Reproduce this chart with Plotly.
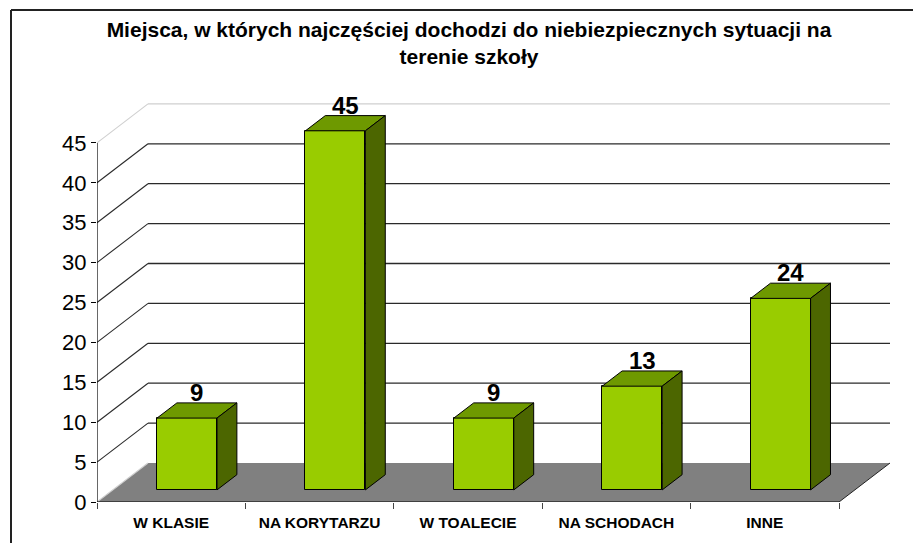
import plotly.graph_objects as go

# ---- data ----
categories = ["W KLASIE", "NA KORYTARZU", "W TOALECIE", "NA SCHODACH", "INNE"]
values = [9, 45, 9, 13, 24]
y_ticks = [0, 5, 10, 15, 20, 25, 30, 35, 40, 45]
title_lines = ["Miejsca, w których najczęściej dochodzi do niebiezpiecznych sytuacji na",
               "terenie szkoły"]

# ---- geometry / style ----
W, H = 913, 543
ML, MB, MR, MT = 97, 41, 15, 87
PXC = 148.4          # px per category (front plane)
PXU = 7.98           # px per value unit (front plane)
DX = 51 / PXC        # depth offset in x units
DY = 39 / PXU        # depth offset in y units
PLOT_W = W - ML - MR
PLOT_H = H - MB - MT
XMAX = PLOT_W / PXC
YMAX = PLOT_H / PXU
F_FRONT, F_BACK = 0.31, 0.70
BW = 0.404
N = len(categories)
YTOP = y_ticks[-1]
FONT = "Liberation Sans, Arial, sans-serif"

FRONT_C = "#99CC00"
TOP_C = "#6E9900"
SIDE_C = "#4C6600"
FLOOR_C = "#808080"
GRID_C = "#2a2a2a"
TOPGRID_C = "#cfcfcf"

def ppx(px):
    return (px - ML) / PLOT_W

def ppy(py):
    return (H - MB - py) / PLOT_H

shapes = []
# floor
shapes.append(dict(type="path", layer="below", xref="x", yref="y",
                   path=f"M 0,0 L {N},0 L {N+DX},{DY} L {DX},{DY} Z",
                   fillcolor=FLOOR_C, line=dict(width=0)))
# back wall gridlines and left wall diagonals
for v in y_ticks:
    col = TOPGRID_C if (v == YTOP or v == 0) else GRID_C
    if v > 0:
        shapes.append(dict(type="line", layer="below", xref="x", yref="y",
                           x0=DX, y0=v + DY, x1=N + DX, y1=v + DY,
                           line=dict(color=col, width=1.3)))
    shapes.append(dict(type="line", layer="below", xref="x", yref="y",
                       x0=0, y0=v, x1=DX, y1=v + DY,
                       line=dict(color=col, width=1.1)))
# floor right edge
shapes.append(dict(type="line", layer="below", xref="x", yref="y",
                   x0=N, y0=0, x1=N + DX, y1=DY, line=dict(color="#222", width=1)))
# axis lines (front)
shapes.append(dict(type="line", layer="below", xref="x", yref="y",
                   x0=0, y0=0, x1=0, y1=YTOP, line=dict(color="black", width=1.2)))
shapes.append(dict(type="line", layer="below", xref="x", yref="y",
                   x0=0, y0=0, x1=N, y1=0, line=dict(color="black", width=1.2)))
# chart frame
shapes.append(dict(type="line", xref="paper", yref="paper",
                   x0=ppx(11), y0=ppy(H + 5), x1=ppx(11), y1=ppy(10),
                   line=dict(color="#222", width=2)))
shapes.append(dict(type="line", xref="paper", yref="paper",
                   x0=ppx(11), y0=ppy(10), x1=ppx(W + 5), y1=ppy(10),
                   line=dict(color="#222", width=2)))

fig = go.Figure()

# front faces
centers = [i + 0.5 for i in range(N)]
fig.add_trace(go.Bar(
    x=[c + F_FRONT * DX for c in centers], y=values, base=[F_FRONT * DY] * N,
    width=BW, marker=dict(color=FRONT_C, line=dict(color="black", width=1)),
    hoverinfo="skip", showlegend=False))

# top and side faces
tx, ty, sx, sy = [], [], [], []
for c, v in zip(centers, values):
    x0, x1 = c - BW / 2, c + BW / 2
    fx, fy, bx, by = F_FRONT * DX, F_FRONT * DY, F_BACK * DX, F_BACK * DY
    tx += [x0 + fx, x1 + fx, x1 + bx, x0 + bx, x0 + fx, None]
    ty += [v + fy, v + fy, v + by, v + by, v + fy, None]
    sx += [x1 + fx, x1 + bx, x1 + bx, x1 + fx, x1 + fx, None]
    sy += [fy, by, v + by, v + fy, fy, None]
fig.add_trace(go.Scatter(x=tx, y=ty, mode="lines", fill="toself", fillcolor=TOP_C,
                         line=dict(color="black", width=1), hoverinfo="skip",
                         showlegend=False, cliponaxis=False))
fig.add_trace(go.Scatter(x=sx, y=sy, mode="lines", fill="toself", fillcolor=SIDE_C,
                         line=dict(color="black", width=1), hoverinfo="skip",
                         showlegend=False, cliponaxis=False))

annotations = []
for c, v in zip(centers, values):
    annotations.append(dict(
        x=c + (F_FRONT + F_BACK) / 2 * DX, y=v + F_BACK * DY, xref="x", yref="y",
        text=f"<b>{v}</b>", showarrow=False, yanchor="bottom", yshift=-5,
        font=dict(family=FONT, size=24, color="black")))

fig.update_layout(
    width=W, height=H, autosize=False,
    margin=dict(l=ML, r=MR, t=MT, b=MB, pad=0),
    paper_bgcolor="white", plot_bgcolor="white",
    title=dict(text="<b>" + "<br>".join(title_lines) + "</b>",
               x=469 / W, xanchor="center", xref="container",
               y=1 - 36.5 / H, yanchor="middle", yref="container",
               font=dict(family=FONT, size=21, color="black")),
    shapes=shapes, annotations=annotations,
    bargap=0,
    xaxis=dict(range=[0, XMAX], tickmode="array", tickvals=centers,
               ticktext=[f"<b>{c}</b>" for c in categories], ticks="",
               showgrid=False, zeroline=False, showline=False,
               ticklabelstandoff=9,
               tickfont=dict(family=FONT, size=15.5, color="black"),
               minor=dict(tickmode="array", tickvals=list(range(N + 1)),
                          ticks="outside", ticklen=6, tickcolor="#444", tickwidth=1,
                          showgrid=False)),
    yaxis=dict(range=[0, YMAX], tickmode="array", tickvals=y_ticks,
               ticks="outside", ticklen=5, tickcolor="black", tickwidth=1,
               showgrid=False, zeroline=False, showline=False,
               tickfont=dict(family=FONT, size=22, color="black")),
)

fig.write_html("out.html",
               config={"displayModeBar": False},
               post_script="document.body.style.margin='0';"
                           "document.documentElement.style.overflow='hidden';")
